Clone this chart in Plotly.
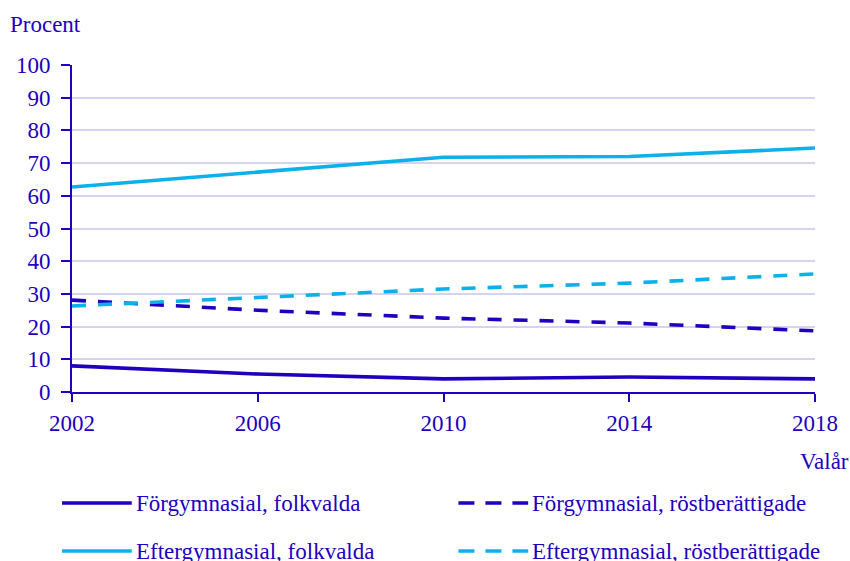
import plotly.graph_objects as go

years = [2002, 2006, 2010, 2014, 2018]
forgym_folkvalda = [8.0, 5.5, 4.0, 4.6, 4.0]
forgym_rostb = [28.1, 25.0, 22.6, 21.1, 18.7]
eftergym_folkvalda = [62.7, 67.3, 71.8, 72.0, 74.6]
eftergym_rostb = [26.3, 29.0, 31.5, 33.3, 36.1]

names = ["Förgymnasial, folkvalda", "Förgymnasial, röstberättigade",
         "Eftergymnasial, folkvalda", "Eftergymnasial, röstberättigade"]
y_ticks = list(range(0, 101, 10))

DARK = "#1E00BE"
LIGHT = "#0CB1E9"
GRID = "#D4D4EE"
FONT = "Liberation Serif"
FS = 23
DASH = "14px,12px"

# plot area geometry (pixels)
L, R, T, B = 72, 32, 65, 169
W, H = 850, 561
PW, PH = W - L - R, H - T - B


def px(x):
    return (x - L) / PW


def py(y):
    return (H - B - y) / PH


fig = go.Figure()
series = [
    (names[0], forgym_folkvalda, DARK, "solid"),
    (names[1], forgym_rostb, DARK, DASH),
    (names[2], eftergym_folkvalda, LIGHT, "solid"),
    (names[3], eftergym_rostb, LIGHT, DASH),
]
for name, vals, col, dash in series:
    fig.add_trace(go.Scatter(x=years, y=vals, name=name, mode="lines",
                             showlegend=False,
                             line=dict(color=col, width=3.6, dash=dash)))

# manual two-column legend
legend_pos = [(62, 503), (460, 503), (62, 551), (460, 551)]
shapes, annotations = [], []
for (name, vals, col, dash), (lx, ly) in zip(series, legend_pos):
    shapes.append(dict(type="line", xref="paper", yref="paper",
                       x0=px(lx), x1=px(lx + 70), y0=py(ly), y1=py(ly),
                       line=dict(color=col, width=3.6,
                                 dash="16px,11px" if dash != "solid" else "solid")))
    annotations.append(dict(text=name, xref="paper", yref="paper",
                            x=px(lx + 72), y=py(ly), xanchor="left", yanchor="middle",
                            showarrow=False, font=dict(size=FS, color=DARK)))

annotations += [
    dict(text="Procent", xref="paper", yref="paper", x=px(8),
         y=py(25), xanchor="left", yanchor="middle", showarrow=False,
         font=dict(size=FS, color=DARK)),
    dict(text="Valår", xref="paper", yref="paper", x=px(854),
         y=py(461), xanchor="right", yanchor="middle", showarrow=False,
         font=dict(size=FS, color=DARK)),
]

fig.update_layout(
    width=W, height=H,
    margin=dict(l=L, r=R, t=T, b=B),
    plot_bgcolor="white", paper_bgcolor="white",
    font=dict(family=FONT, size=FS, color=DARK),
    showlegend=False,
    xaxis=dict(range=[2002, 2018], tickvals=years, ticktext=[str(y) for y in years],
               showgrid=False, zeroline=False, showline=True, linecolor=DARK,
               linewidth=2, ticks="outside", ticklen=8, tickwidth=2, tickcolor=DARK,
               ticklabelstandoff=1),
    yaxis=dict(range=[0, 100], tickvals=y_ticks, showgrid=True, gridcolor=GRID,
               gridwidth=2, zeroline=False, showline=True, linecolor=DARK,
               linewidth=2, ticks="outside", ticklen=9, tickwidth=2, tickcolor=DARK,
               ticklabelstandoff=6),
    shapes=shapes,
    annotations=annotations,
)
fig.write_html("out.html", config={"displayModeBar": False},
               post_script="document.body.style.margin='0';")
